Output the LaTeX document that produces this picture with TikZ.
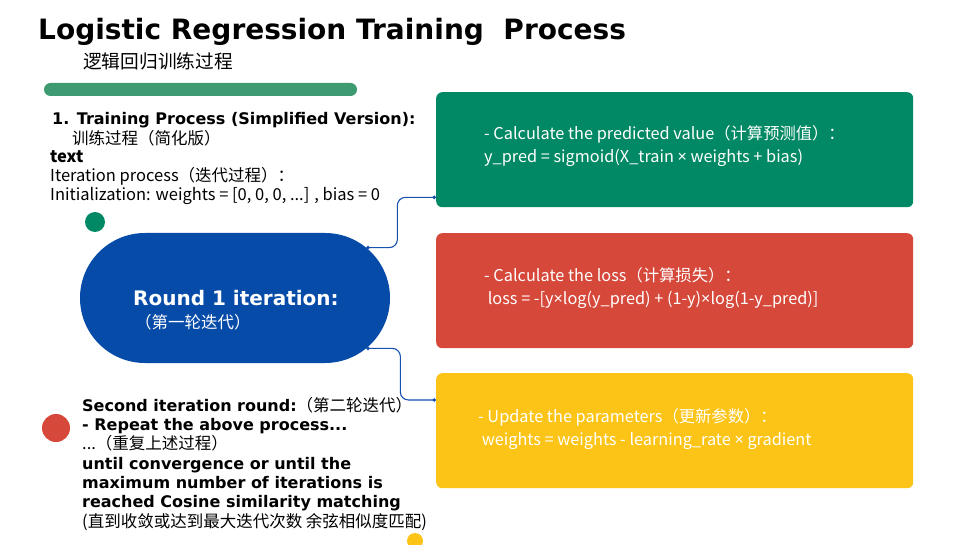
\documentclass[tikz,border=0pt]{standalone}
\usepackage{fontspec}
\setmainfont{Noto Sans CJK SC}
\newfontfamily\techfont{DejaVu Sans}
\newfontfamily\latinfont{Noto Sans}
\usetikzlibrary{shapes.misc,arrows.meta}

\definecolor{predgreen}{RGB}{0,137,100}
\definecolor{lossred}{RGB}{214,72,58}
\definecolor{updyellow}{RGB}{252,196,22}
\definecolor{roundblue}{RGB}{6,75,168}
\definecolor{bargreen}{RGB}{62,154,112}
\definecolor{linkblue}{RGB}{22,80,176}

\newcommand{\techbf}[1]{{\techfont\bfseries\fontsize{16}{19.3}\selectfont #1}}
\newcommand{\mult}{{\latinfont ×}}

\begin{document}
\begin{tikzpicture}[x=1pt,y=-1pt,
  card/.style={fill=#1,rounded corners=6pt,minimum width=477pt,minimum height=115pt,anchor=north west,inner sep=0pt},
  cardtext/.style={anchor=base west,align=left,text=white,inner sep=0pt,font=\fontsize{16.3}{23}\selectfont},
  bodytext/.style={anchor=base west,align=left,inner sep=0pt,font=\fontsize{16.5}{19.3}\selectfont},
  link/.style={draw=linkblue,line width=1.1pt,rounded corners=8pt,{Circle[length=3.5pt]}-{Circle[length=3.5pt]}}
]
\fill[white] (0,0) rectangle (968,545);
\useasboundingbox (0,0) rectangle (968,545);
\clip (0,0) rectangle (968,545);

% title
\node[anchor=base west,inner sep=0pt,font=\techfont\bfseries\fontsize{28}{32}\selectfont] (title) at (38,40) {Logistic Regression Training\ \ Process};
\node[bodytext,font=\fontsize{18.7}{22}\selectfont] (subtitle) at (83,69) {逻辑回归训练过程};
\fill[bargreen,rounded corners=6.5pt] (44,83) rectangle (357,96);

% left column
\node[bodytext] (stepone) at (52,125) {\techbf{1. Training Process (Simplified Version):}};
\node[bodytext] (stepcn) at (72,145) {训练过程（简化版）};
\node[bodytext,font=\bfseries\fontsize{16.5}{19.3}\selectfont] (txtlbl) at (50,163) {text};
\node[bodytext] (iterproc) at (50,182) {Iteration process（迭代过程）：};
\node[bodytext] (initline) at (50,201) {Initialization: weights = [0, 0, 0, ...] , bias = 0};

\fill[predgreen] (95,222) circle (10pt);
\fill[lossred] (56,428) circle (14pt);
\fill[updyellow] (415,541) circle (8pt);

% round 1
\node[rounded rectangle,fill=roundblue,minimum width=310pt,minimum height=130pt,inner sep=0pt] (round1) at (235,298) {};
\node[bodytext,text=white] (round1txt) at (133,305) {{\techfont\bfseries\fontsize{20}{22}\selectfont Round 1 iteration:}};
\node[bodytext,text=white] (round1cn) at (135,328) {（第一轮迭代）};

% node base = last line
\node[bodytext] (nextround) at (82,527) {\techbf{Second iteration round:}（第二轮迭代）\\
\techbf{- Repeat the above process...}\\
...（重复上述过程）\\
\techbf{until convergence or until the}\\
\techbf{maximum number of iterations is}\\
\techbf{reached Cosine similarity matching}\\
(直到收敛或达到最大迭代次数 余弦相似度匹配)};

% step cards
\node[card=predgreen] (predbox) at (436,92) {};
\node[card=lossred] (lossbox) at (436,233) {};
\node[card=updyellow] (updbox) at (436,373) {};

\node[cardtext] (predtxt) at (484,163) {- Calculate the predicted value（计算预测值）：\\y\_pred = sigmoid(X\_train \mult{} weights + bias)};
\node[cardtext] (losstxt) at (484,304) {- Calculate the loss（计算损失）：\\\ loss = -[y\mult{}log(y\_pred) + (1-y)\mult{}log(1-y\_pred)]};
\node[cardtext] (updtxt) at (478,445) {- Update the parameters（更新参数）：\\\ weights = weights - learning\_rate \mult{} gradient};

\draw[link] (round1.21) -- ++(31,0) |- ([yshift=10pt]predbox.south west);
\draw[link] (round1.-21) -- ++(34,0) |- ([yshift=-27pt]updbox.north west);
\end{tikzpicture}
\end{document}
